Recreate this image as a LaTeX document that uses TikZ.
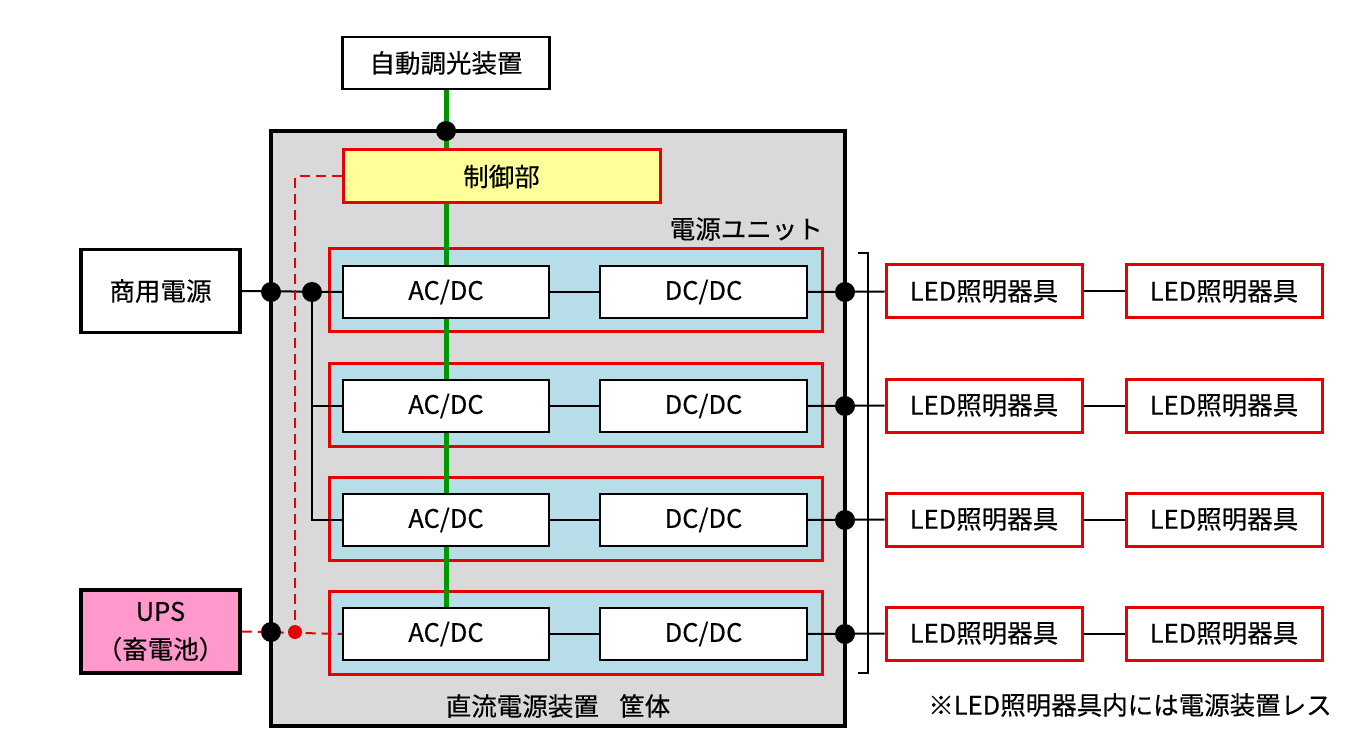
\documentclass[tikz,border=0pt]{standalone}
\usepackage{fontspec}
\setmainfont{Noto Sans CJK JP}[FakeBold=0.3]
\begin{document}
\begin{tikzpicture}[x=1pt,y=-1pt,
  every node/.style={font=\fontsize{25.5}{31}\selectfont, inner sep=0pt},
  plainbox/.style={draw=black, line width=2pt, fill=white, minimum height=52pt},
  srcbox/.style={draw=black, line width=3.5pt, minimum width=159pt, minimum height=83pt, align=center},
  redbox/.style={draw=myred, line width=3pt},
  unitbox/.style={redbox, fill=myblue, minimum width=493pt, minimum height=83pt},
  ledbox/.style={redbox, fill=white, minimum width=196pt, minimum height=53pt},
  wire/.style={draw=black, line width=2pt},
  redwire/.style={draw=myred, line width=2pt, dash pattern=on 10pt off 6pt},
  bdot/.style={circle, fill=black, minimum size=20pt},
  rdot/.style={circle, fill=myred, minimum size=14pt},
  lbl/.style={}
]
\definecolor{myred}{RGB}{230,0,0}
\definecolor{mygreen}{RGB}{0,150,0}
\definecolor{myblue}{RGB}{183,222,232}
\definecolor{mygray}{RGB}{217,217,217}
\definecolor{myyellow}{RGB}{255,255,153}
\definecolor{mypink}{RGB}{255,153,204}
\useasboundingbox (0,0) rectangle (1371,751);

% enclosure
\node[draw=black, line width=4.5pt, fill=mygray, minimum width=574pt, minimum height=595pt] (encl) at (558,428.5) {};
\node[lbl] (enclab) at (558,706) {直流電源装置\hspace{0.8em}筐体};

% units
\foreach \i/\y in {1/292,2/406,3/520,4/634}{
  \node[unitbox] (unit\i) at (575.5,\y-1.5) {};
}
\node[lbl, anchor=east] (unitlab) at (823,229) {電源ユニット};

% top box
\node[plainbox, line width=2.5pt, minimum width=207pt] (dim) at (446,63) {自動調光装置};

% green control line
\draw[mygreen, line width=5pt] (dim.south) -- (446,608) coordinate (gend);

% control unit
\node[redbox, fill=myyellow, minimum width=317pt, minimum height=53pt] (ctrl) at (501.5,176.5) {制御部};

% converters
\foreach \i/\y in {1/292,2/406,3/520,4/634}{
  \node[plainbox, minimum width=206pt] (ac\i) at (446,\y) {AC/DC};
  \node[plainbox, minimum width=207pt] (dc\i) at (703.5,\y) {DC/DC};
  \node[ledbox] (led\i) at (984,\y-0.5) {LED照明器具};
  \node[ledbox] (ledb\i) at (1224,\y-0.5) {LED照明器具};
  \draw[wire] (ac\i.east) -- (dc\i.west);
  \draw[wire] (dc\i.east) -- (led\i.west);
  \draw[wire] (led\i.east) -- (ledb\i.west);
  \node[bdot] (od\i) at (845,\y) {};
}

% sources
\node[srcbox, fill=white] (ac) at (160.5,291) {商用電源};
\node[srcbox, fill=mypink, font=\fontsize{25.5}{38}\selectfont] (ups) at (160.5,631.5) {UPS\\（畜電池）};

% AC wiring
\coordinate (j1) at (312,292);
\draw[wire] (ac.east) -- (ac1.west);
\draw[wire] (j1) |- (ac2.west);
\draw[wire] (j1) |- (ac3.west);
\node[bdot] (acd) at (271,292) {};
\node[bdot] (jd) at (j1) {};

% UPS wiring
\coordinate (rj) at (295,632);
\draw[redwire] (ctrl.west) -| (rj);
\draw[redwire] (ups.east) -- (ac4.west);
\node[bdot] (upsd) at (271,632) {};
\node[rdot] (rjd) at (rj) {};

% top dot
\node[bdot] (topd) at (446,131) {};

% bracket
\coordinate (b1) at (858,253);
\coordinate (b2) at (868,253);
\coordinate (b3) at (868,673);
\coordinate (b4) at (858,673);
\draw[wire] (b1) -- (b2) -- (b3) -- (b4);

% note
\node[lbl] (note) at (1130,705) {※LED照明器具内には電源装置レス};
\end{tikzpicture}
\end{document}
